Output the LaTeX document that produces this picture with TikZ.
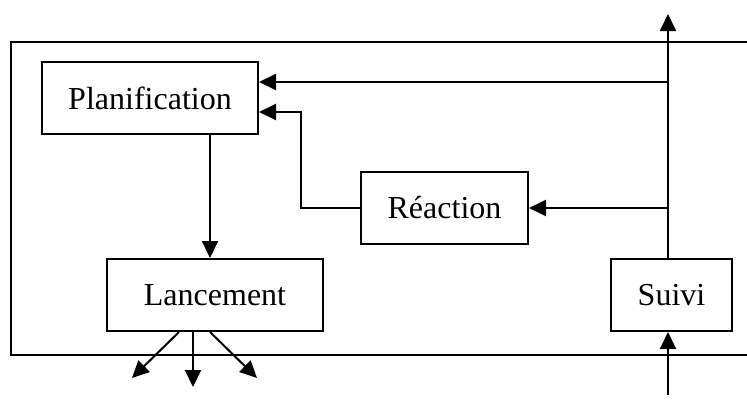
\documentclass[tikz,border=0pt]{standalone}
\usepackage{fontspec}
\setmainfont{Liberation Serif}
\usetikzlibrary{arrows.meta,calc}
\begin{document}
\begin{tikzpicture}[x=1pt,y=-1pt,
  line width=2pt,
  box/.style={draw,line width=2pt,minimum height=72pt,inner sep=0pt,
    font=\fontsize{32}{36}\selectfont},
  flow/.style={-{Triangle[length=17pt,width=16pt]},line width=2pt}]
\useasboundingbox (0,0) rectangle (747,399);
% open frame of the system
\draw (747,42) -- (11,42) -- (11,355) -- (747,355);
% blocks
\node[box,minimum width=216pt] (plan) at (150,98) {Planification};
\node[box,minimum width=216pt] (lanc) at (215,295) {Lancement};
\node[box,minimum width=167pt] (reac) at (444.5,208) {R\'eaction};
\node[box,minimum width=121pt] (suivi) at (671.5,295) {Suivi};
% feedback trunk rising from Suivi
\coordinate (trunk) at (668,0);
\coordinate (top) at (668,14);
\coordinate (in) at (668,395);
\coordinate (j1) at (668,82);
\coordinate (j2) at (668,208);
\coordinate (bend) at (301,112);
\draw[flow] (suivi.north -| trunk) -- (top);
\draw[flow] (in) -- (suivi.south -| trunk);
\draw[flow] (j1) -- (plan.east |- j1);
\draw[flow] (j2) -- (reac.east);
\draw[flow] (reac.west) -| (bend) -- (plan.east |- bend);
\draw[flow] (plan.south -| 210,0) -- (lanc.north -| 210,0);
% outputs of Lancement
\coordinate (o1) at (132,378);
\coordinate (o2) at (193,387);
\coordinate (o3) at (257,378);
\draw[flow] (lanc.south -| 179,0) -- (o1);
\draw[flow] (lanc.south -| 193,0) -- (o2);
\draw[flow] (lanc.south -| 210,0) -- (o3);
\end{tikzpicture}
\end{document}
